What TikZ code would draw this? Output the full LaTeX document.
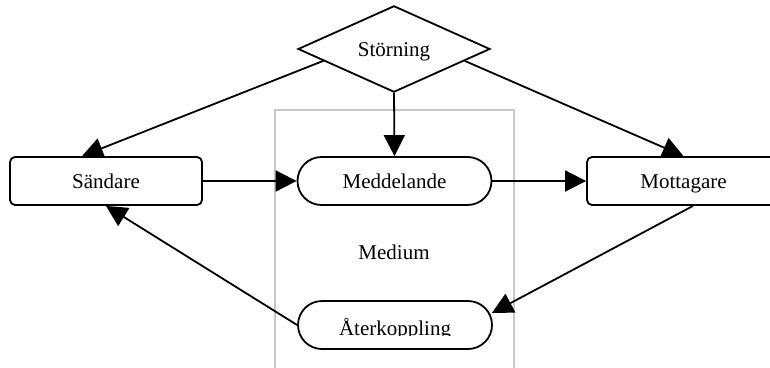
\documentclass[tikz,border=0pt]{standalone}
\usepackage{fontspec}
\setmainfont{Liberation Serif}
\usetikzlibrary{shapes.geometric,arrows.meta,calc}
\pgfdeclarelayer{frame}
\pgfdeclarelayer{links}
\pgfsetlayers{frame,links,main}
\begin{document}
\begin{tikzpicture}[x=1pt,y=-1pt,
  every node/.style={font=\fontsize{21}{25}\selectfont, text height=14pt, text depth=0pt, inner sep=0pt},
  party/.style={draw, line width=1.8pt, fill=white, rounded corners=5pt, minimum width=192pt, minimum height=48pt},
  pill/.style={draw, line width=1.8pt, fill=white, rounded corners=24pt, minimum width=194pt, minimum height=48pt},
  noise/.style={draw, diamond, line width=1.8pt, fill=white, minimum width=192pt, minimum height=72pt},
  link/.style={line width=1.8pt, -{Triangle[length=21pt,width=21pt]}},
  medium/.style={draw=black!22, line width=1.8pt}]
\useasboundingbox (0,0) rectangle (770,367);

% communication parties, message and disturbance
\node[noise] (stor) at (394,49) {Störning};
\node[party] (sand) at (106,181) {Sändare};
\node[party, minimum width=193pt] (mott) at (683.5,181) {Mottagare};
\node[pill] (medd) at (394.5,181) {Meddelande};
\node[pill] (aterk) at (395,325) {};
\begin{scope}
  \clip (280,300) rectangle (510,335.5);
  \node (aterktext) at (395,328) {Återkoppling};
\end{scope}
\node (medium) at (394,252) {Medium};

% the medium, open at the bottom
\begin{pgfonlayer}{frame}
  \draw[medium] (275,380) -- (275,110) -- (514,110) -- (514,380);
\end{pgfonlayer}

% connectors, drawn beneath the shapes
\begin{pgfonlayer}{links}
  \draw[link] ($(stor.west)!0.27!(stor.south)$) -- ([xshift=-24pt]sand.north);
  \draw[link] (stor.south) -- (medd.north);
  \draw[link] ($(stor.east)!0.27!(stor.south)$) -- (mott.north);
  \draw[link] (sand.east) -- (medd.west);
  \draw[link] (medd.east) -- (mott.west);
  \draw[link] ([xshift=9.5pt]mott.south) -- ([xshift=-1pt,yshift=12pt]aterk.east);
  \draw[link] (aterk.west) -- (sand.south);
\end{pgfonlayer}
\end{tikzpicture}
\end{document}
